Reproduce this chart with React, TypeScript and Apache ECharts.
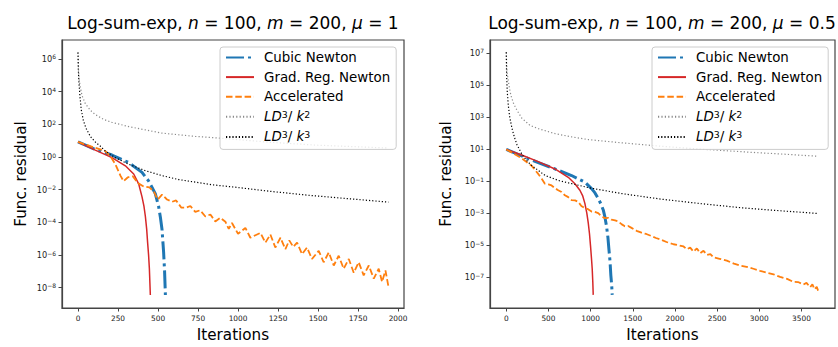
import React, { useEffect, useRef } from 'react';
import * as echarts from 'echarts';

const FONT = 'DejaVu Sans';

// Values are [iteration, log10(residual)]; the y axis is a
// value axis in decades (log10), labelled as powers of ten.

// ---- Left panel (mu = 1)
const L_cubic: [number, number][] = [
  [0, 0.92], [108, 0.46], [212, 0.12], [317, -0.34], [400, -0.94], [442, -1.48],
  [483, -2.24], [504, -3.04], [515, -3.7], [525, -4.44], [535, -5.84], [541, -7.0], [546, -8.44],
];
const L_grad: [number, number][] = [
  [0, 0.92], [108, 0.42], [212, -0.04], [296, -0.54], [348, -1.04], [379, -1.64],
  [400, -2.44], [412, -3.0], [421, -3.64], [429, -4.4], [435, -5.24], [441, -6.0], [446, -6.84], [452, -8.44],
];
const L_acc: [number, number][] = [
  [0, 0.92], [108, 0.56], [171, 0.36], [202, 0.06], [233, -0.44], [265, -1.14], [285, -1.48],
  [312, -1.24], [342, -1.18], [375, -1.6], [410, -1.8], [446, -1.86], [473, -2.1], [498, -2.6],
  [525, -2.3], [556, -2.6], [588, -2.74], [613, -2.66], [646, -3.1], [675, -3.1], [702, -3.0],
  [733, -3.36], [763, -3.26], [796, -3.64], [827, -3.52], [858, -3.94], [890, -3.72], [921, -3.96],
  [942, -4.4], [962, -4.04], [1000, -4.7], [1046, -4.34], [1077, -4.94], [1140, -4.64], [1171, -5.24],
  [1202, -4.74], [1233, -5.54], [1265, -4.94], [1296, -5.64], [1320, -5.1], [1345, -5.5], [1369, -5.24],
  [1400, -5.94], [1431, -5.54], [1462, -6.24], [1504, -5.74], [1535, -6.44], [1567, -5.84], [1598, -6.64],
  [1629, -6.04], [1660, -6.84], [1692, -6.24], [1723, -7.08], [1754, -6.44], [1785, -7.24], [1817, -6.64],
  [1848, -7.44], [1879, -6.84], [1900, -7.64], [1921, -6.94], [1940, -7.94],
];
const L_k2: [number, number][] = [
  [0, 6.4], [4, 5.16], [8, 4.66], [15, 4.26], [25, 3.76], [46, 3.26], [77, 2.86], [108, 2.6],
  [160, 2.3], [212, 2.12], [317, 1.86], [421, 1.66], [525, 1.46], [733, 1.26], [879, 1.16],
  [1200, 0.9], [1500, 0.72], [1940, 0.55],
];
const L_k3: [number, number][] = [
  [0, 6.4], [2, 5.36], [6, 4.56], [12.5, 3.66], [21, 2.86], [33, 2.26], [50, 1.76], [77, 1.26],
  [108, 0.92], [140, 0.66], [171, 0.36], [233, -0.04], [317, -0.44], [421, -0.84], [525, -1.14],
  [629, -1.38], [733, -1.54], [838, -1.7], [975, -1.84], [1200, -2.1], [1450, -2.35], [1700, -2.56], [1940, -2.76],
];

// ---- Right panel (mu = 0.5)
const R_cubic: [number, number][] = [
  [0, 0.98], [182, 0.57], [379, 0.16], [577, -0.24], [774, -0.65], [932, -1.06], [1011, -1.47],
  [1050, -1.72], [1090, -2.08], [1120, -2.4], [1150, -2.8], [1170, -3.25], [1189, -3.82], [1205, -4.5],
  [1217, -5.24], [1230, -6.0], [1240, -6.88], [1250, -7.5], [1256, -8.1],
];
const R_grad: [number, number][] = [
  [0, 0.98], [182, 0.63], [379, 0.22], [577, -0.24], [735, -0.76], [814, -1.16], [873, -1.57],
  [905, -1.9], [932, -2.39], [955, -3.0], [972, -3.61], [987, -4.3], [999, -5.04], [1010, -5.8],
  [1019, -6.47], [1026, -7.3], [1031, -8.1],
];
const R_acc: [number, number][] = [
  [0, 0.98], [182, 0.43], [300, -0.04], [379, -0.55], [420, -0.85], [458, -1.16], [500, -1.2], [537, -1.27],
  [580, -1.45], [616, -1.57], [655, -1.68], [695, -1.88], [735, -2.0], [774, -2.18], [815, -2.2], [853, -2.29],
  [890, -2.55], [932, -2.69], [970, -2.75], [1011, -2.9], [1050, -2.92], [1090, -3.0], [1130, -3.2],
  [1169, -3.31], [1210, -3.3], [1248, -3.41], [1290, -3.45], [1327, -3.51], [1370, -3.7], [1406, -3.82],
  [1445, -3.8], [1485, -3.92], [1545, -4.1], [1604, -4.22], [1660, -4.3], [1722, -4.43], [1775, -4.55],
  [1825, -4.63], [1900, -4.8], [1983, -4.94], [2040, -5.0], [2102, -5.08], [2140, -5.25], [2181, -5.15],
  [2220, -5.4], [2260, -5.2], [2300, -5.5], [2339, -5.35], [2380, -5.6], [2420, -5.55], [2457, -5.76],
  [2530, -5.85], [2615, -5.96], [2700, -6.15], [2773, -6.27], [2850, -6.35], [2931, -6.47], [3010, -6.6],
  [3089, -6.71], [3170, -6.82], [3247, -6.98], [3330, -7.1], [3405, -7.29], [3460, -7.3],
  [3524, -7.45], [3560, -7.35], [3603, -7.62], [3630, -7.45], [3655, -7.75], [3682, -7.6], [3700, -7.88],
];
const R_k2: [number, number][] = [
  [0, 7.04], [8, 5.88], [20, 5.37], [36, 4.86], [55, 4.35], [87, 3.84], [126, 3.43], [186, 2.92],
  [284, 2.47], [383, 2.27], [581, 1.96], [778, 1.76], [976, 1.59], [1371, 1.39], [1829, 1.18],
  [2300, 1.0], [2900, 0.8], [3300, 0.68], [3700, 0.55],
];
const R_k3: [number, number][] = [
  [0, 7.04], [4, 5.57], [12, 4.55], [24, 3.73], [40, 3.02], [67, 2.31], [99, 1.69], [126, 1.29],
  [186, 0.67], [245, 0.27], [304, -0.04], [462, -0.65], [620, -0.96], [778, -1.16], [976, -1.41],
  [1371, -1.78], [1829, -2.12], [2300, -2.4], [2800, -2.67], [3300, -2.87], [3700, -3.02],
];

const L_xticks = [0, 250, 500, 750, 1000, 1250, 1500, 1750, 2000];
const R_xticks = [0, 500, 1000, 1500, 2000, 2500, 3000, 3500];
const L_yexp = [-8, -6, -4, -2, 0, 2, 4, 6];
const R_yexp = [-7, -5, -3, -1, 1, 3, 5, 7];

const NAMES = ['Cubic Newton', 'Grad. Reg. Newton', 'Accelerated', 'LD3k2', 'LD3k3'];

const AX = '#444';
const TICKC = '#222';

function xAxis(idx: number, min: number, max: number, ticks: number[]) {
  return {
    type: 'value', gridIndex: idx, min, max,
    name: 'Iterations', nameLocation: 'middle', nameGap: 19,
    nameTextStyle: { fontFamily: FONT, fontSize: 15.2, color: '#000' },
    axisLine: { show: true, onZero: false, lineStyle: { color: AX, width: 1.2 } },
    axisTick: { show: true, length: 3.5, customValues: ticks, lineStyle: { color: AX, width: 1 } },
    axisLabel: {
      customValues: ticks, margin: 7, fontFamily: FONT, fontSize: 7.4, color: TICKC,
      formatter: (v: number) => String(v),
    },
    splitLine: { show: false },
  };
}

function yAxis(idx: number, minE: number, maxE: number, exps: number[], gap: number) {
  return {
    type: 'value', gridIndex: idx, min: minE, max: maxE,
    name: 'Func. residual', nameLocation: 'middle', nameGap: gap,
    nameTextStyle: { fontFamily: FONT, fontSize: 15.2, color: '#000' },
    axisLine: { show: true, onZero: false, lineStyle: { color: AX, width: 1.2 } },
    axisTick: { show: true, length: 3.5, customValues: exps, lineStyle: { color: AX, width: 1 } },
    axisLabel: {
      customValues: exps, margin: 6,
      formatter: (v: number) => {
        const e = Math.round(v);
        const s = e < 0 ? '\u2212' + -e : String(e);
        return `{b|10}{s|${s}}`;
      },
      rich: {
        b: { fontFamily: FONT, fontSize: 8.2, color: TICKC, lineHeight: 10 },
        s: { fontFamily: FONT, fontSize: 6, color: TICKC, lineHeight: 6, verticalAlign: 'top' },
      },
    },
    splitLine: { show: false },
  };
}

function seriesFor(idx: number, cubic: any, grad: any, acc: any, k2: any, k3: any) {
  const base = { type: 'line', xAxisIndex: idx, yAxisIndex: idx, symbol: 'none', showSymbol: false, silent: true };
  return [
    { ...base, name: NAMES[0], data: cubic, lineStyle: { color: '#1f77b4', width: 3, type: [18, 4, 3, 4] }, itemStyle: { color: '#1f77b4' } },
    { ...base, name: NAMES[1], data: grad, lineStyle: { color: '#d62728', width: 1.5 }, itemStyle: { color: '#d62728' } },
    { ...base, name: NAMES[2], data: acc, lineStyle: { color: '#ff7f0e', width: 1.8, type: [6.5, 2.8] }, itemStyle: { color: '#ff7f0e' } },
    { ...base, name: NAMES[3], data: k2, lineStyle: { color: '#8a8a8a', width: 1.2, type: [1.2, 2.2] }, itemStyle: { color: '#8a8a8a' } },
    { ...base, name: NAMES[4], data: k3, lineStyle: { color: '#000000', width: 1.2, type: [1.2, 2.0] }, itemStyle: { color: '#000000' } },
  ];
}

function legend(left: number) {
  return {
    orient: 'vertical', left, top: 47, data: NAMES,
    itemWidth: 28, itemHeight: 14, itemGap: 6.6,
    padding: [4, 6, 6, 5],
    backgroundColor: 'rgba(255,255,255,0.8)', borderColor: '#cccccc', borderWidth: 1, borderRadius: 3,
    selectedMode: false,
    itemStyle: { opacity: 0, borderWidth: 0, color: 'rgba(0,0,0,0)' },
    formatter: (n: string) => {
      if (n === 'LD3k2') return '{i|LD}{sup|3}{n|/ }{i|k}{sup|2}';
      if (n === 'LD3k3') return '{i|LD}{sup|3}{n|/ }{i|k}{sup|3}';
      return '{n|' + n + '}';
    },
    textStyle: {
      fontFamily: FONT, fontSize: 13.4, color: '#000', padding: [0, 0, 0, 5],
      rich: {
        n: { fontFamily: FONT, fontSize: 13.4, color: '#000', lineHeight: 14 },
        i: { fontFamily: FONT, fontSize: 13.4, fontStyle: 'italic', color: '#000', lineHeight: 14 },
        sup: { fontFamily: FONT, fontSize: 9.4, color: '#000', lineHeight: 8, verticalAlign: 'top' },
      },
    },
  };
}

function titleText(x: number, mu: string) {
  return {
    type: 'text', silent: true,
    style: {
      x, y: 23, align: 'center', verticalAlign: 'middle',
      text: `Log-sum-exp, {i|n} = 100, {i|m} = 200, {i|μ} = ${mu}`,
      fontFamily: FONT, fontSize: 17, fill: '#000',
      rich: { i: { fontFamily: FONT, fontSize: 17, fontStyle: 'italic', fill: '#000' } },
    },
  };
}

export default function App() {
  const ref = useRef<HTMLDivElement>(null);
  useEffect(() => {
    if (!ref.current) return;
    const chart = echarts.init(ref.current, undefined, { renderer: 'svg' });
    chart.setOption({
      animation: false,
      backgroundColor: '#ffffff',
      textStyle: { fontFamily: FONT },
      grid: [
        { left: 62, top: 40, width: 342, height: 273, show: true, borderColor: AX, borderWidth: 1.2, backgroundColor: 'transparent' },
        { left: 490, top: 40, width: 345, height: 273, show: true, borderColor: AX, borderWidth: 1.2, backgroundColor: 'transparent' },
      ],
      xAxis: [xAxis(0, -100, 2037, L_xticks), xAxis(1, -193, 3898, R_xticks)],
      yAxis: [yAxis(0, -9.24, 7.16, L_yexp, 34), yAxis(1, -8.92, 7.81, R_yexp, 37)],
      legend: [legend(220), legend(652)],
      graphic: [titleText(233, '1'), titleText(662, '0.5')],
      series: [
        ...seriesFor(0, L_cubic, L_grad, L_acc, L_k2, L_k3),
        ...seriesFor(1, R_cubic, R_grad, R_acc, R_k2, R_k3),
      ],
    });
    return () => chart.dispose();
  }, []);
  return <div ref={ref} style={{ width: 838, height: 347, position: 'absolute', left: 0, top: 0 }} />;
}
